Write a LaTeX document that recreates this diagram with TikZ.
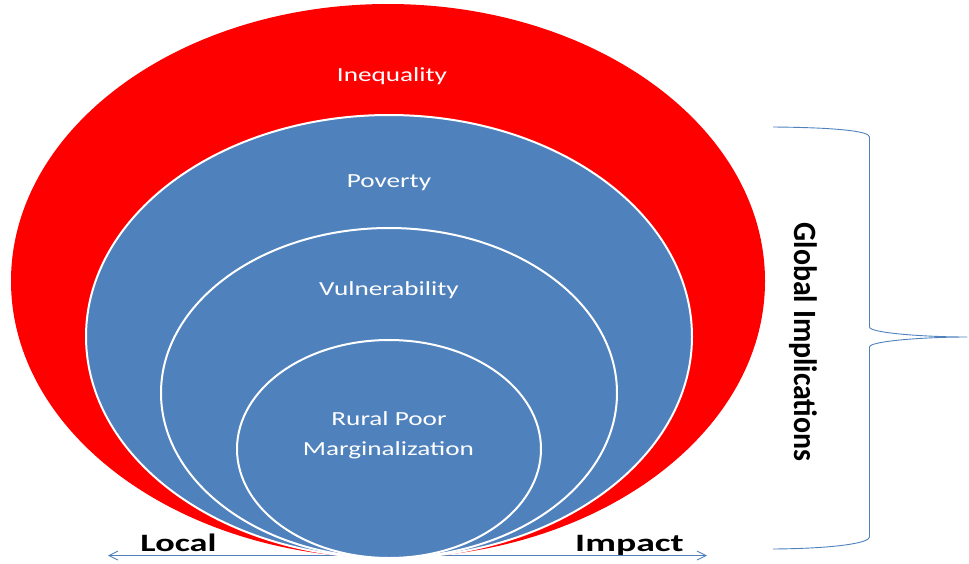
\documentclass[tikz,border=0pt]{standalone}
\usepackage{fontspec}
\setmainfont{Carlito}
\usetikzlibrary{shapes.geometric,arrows.meta}
\definecolor{blueF}{HTML}{4F81BD}
\definecolor{redF}{HTML}{FF0000}
\tikzset{
  ring/.style={ellipse, inner sep=0pt, outer sep=0pt},
  redring/.style={ring, fill=redF},
  bluering/.style={ring, fill=blueF, draw=white, line width=2pt},
  lbl/.style={text=white, inner sep=0pt, anchor=base, font=\fontsize{20}{24}\selectfont},
  blbl/.style={text=black, inner sep=0pt, anchor=base, font=\bfseries\fontsize{25}{30}\selectfont},
  thinblue/.style={draw=blueF, line width=0.9pt},
}
\begin{document}
\begin{tikzpicture}[x=1pt,y=-1pt]
\useasboundingbox (0,0) rectangle (969,563);
% axis arrow (behind the rings)
\coordinate (aL) at (108,555.5);
\coordinate (aR) at (707,555.5);
\draw[thinblue, {Straight Barb[length=9pt,width=9pt]}-{Straight Barb[length=9pt,width=9pt]}] (aL) -- (aR);
% rings
\node[redring, minimum width=754pt, minimum height=554pt] (ineq) at (388,281) {};
\node[bluering, minimum width=606pt, minimum height=443pt] (pov) at (389,336.5) {};
\node[bluering, minimum width=456pt, minimum height=330pt] (vul) at (389,393) {};
\node[bluering, minimum width=304pt, minimum height=218pt] (rur) at (389,449) {};
% ring labels
\node[lbl] (tIneq) at (392,81) {\scalebox{1.36}[1]{Inequality}};
\node[lbl] (tPov) at (389,187) {\scalebox{1.36}[1]{Poverty}};
\node[lbl] (tVul) at (389,295) {\scalebox{1.36}[1]{Vulnerability}};
\node[lbl] (tRur) at (389,425) {\scalebox{1.36}[1]{Rural Poor}};
\node[lbl] (tMar) at (388.5,455) {\scalebox{1.36}[1]{Marginalization}};
% axis labels
\node[blbl] (tLocal) at (178.5,551) {\scalebox{1.45}[1]{Local}};
\node[blbl] (tImpact) at (629.5,551) {\scalebox{1.51}[1]{Impact}};
% brace
\coordinate (bT) at (773,127);
\coordinate (bB) at (773,549);
\coordinate (bTip) at (967,337);
\draw[thinblue, line join=round] (bT) .. controls (835,127.5) and (869.5,131) .. (869.5,137)
  -- (869.5,327) .. controls (869.5,333) and (925,337) .. (bTip)
  .. controls (925,337) and (869.5,341) .. (869.5,347)
  -- (869.5,537) .. controls (869.5,543) and (835,548.5) .. (bB);
% side label
\node[text=black, inner sep=0pt, rotate=-90, font=\bfseries\fontsize{32.5}{36}\selectfont] (tGlob) at (803,342) {\scalebox{0.92}[1]{Global Implications}};
\end{tikzpicture}
\end{document}
